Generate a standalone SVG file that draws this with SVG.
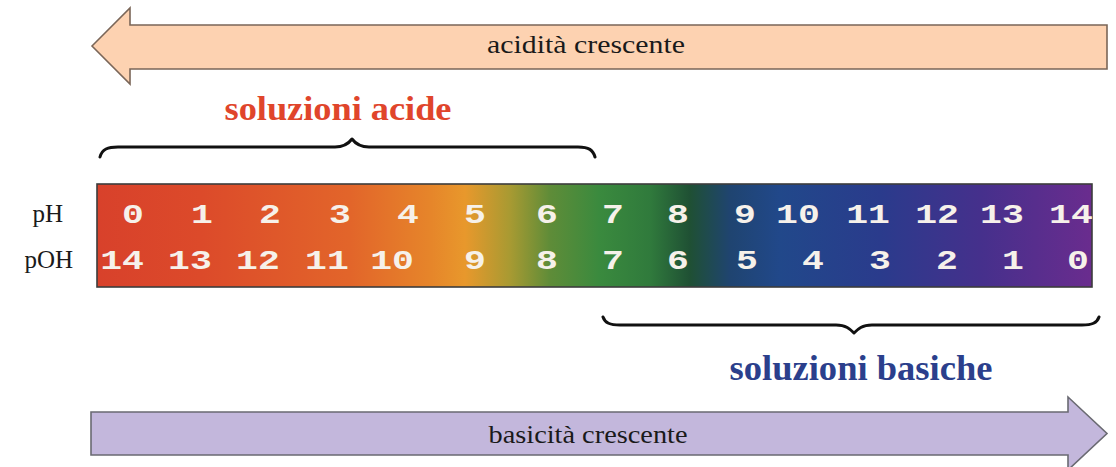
<svg xmlns="http://www.w3.org/2000/svg" width="1116" height="467" viewBox="0 0 1116 467">
<style>
.lbl{font-family:"Liberation Serif","Times New Roman",serif;fill:#1a1a1a}
.big{font-family:"Liberation Serif","Times New Roman",serif;font-weight:bold}
.num{font-family:"Liberation Mono","Courier New",monospace;font-weight:bold;font-size:27px;fill:#f6f1ea;text-anchor:middle}
.brace{fill:none;stroke:#111;stroke-width:3;stroke-linecap:round;stroke-linejoin:round}
</style>
<defs>
<linearGradient id="ph" x1="0" y1="0" x2="1" y2="0">
<stop offset="0" stop-color="#d8412b"/>
<stop offset="0.104" stop-color="#dc4a2a"/>
<stop offset="0.254" stop-color="#e2652a"/>
<stop offset="0.335" stop-color="#e6852a"/>
<stop offset="0.37" stop-color="#e8982c"/>
<stop offset="0.415" stop-color="#a89a32"/>
<stop offset="0.455" stop-color="#5f8c38"/>
<stop offset="0.505" stop-color="#3a8a3e"/>
<stop offset="0.556" stop-color="#307a3c"/>
<stop offset="0.596" stop-color="#1f5034"/>
<stop offset="0.636" stop-color="#1f4470"/>
<stop offset="0.686" stop-color="#21488a"/>
<stop offset="0.787" stop-color="#2a3b8c"/>
<stop offset="0.887" stop-color="#45308c"/>
<stop offset="1" stop-color="#6a2c8e"/>
</linearGradient>
</defs>
<rect width="1116" height="467" fill="#ffffff"/>

<g id="arrow-acidita">
<polygon points="92,46 130,8 130,25 1107,25 1107,69 130,69 130,84" fill="#fdd2b1" stroke="#7a6658" stroke-width="1.6"/>
<text class="lbl" x="586" y="53" font-size="26" text-anchor="middle" textLength="198" lengthAdjust="spacingAndGlyphs">acidità crescente</text>
</g>

<g id="label-acide">
<text class="big" x="338" y="120" font-size="34" fill="#e0452b" text-anchor="middle" textLength="227" lengthAdjust="spacingAndGlyphs">soluzioni acide</text>
</g>

<g id="brace-acide">
<path class="brace" d="M100,157 C102,149 108,147 118,147 L335,147 C345,147 349,143 352,139 C355,143 359,147 369,147 L578,147 C589,147 593,150 595,157"/>
</g>

<g id="scale-bar">
<rect x="97" y="184" width="995" height="103" fill="url(#ph)" stroke="#3c3c3c" stroke-width="1.6"/>
<text class="lbl" x="63" y="222" font-size="25" text-anchor="end">pH</text>
<text class="lbl" x="73" y="268" font-size="25" text-anchor="end">pOH</text>
<g transform="scale(1.35,1)">
<text class="num" x="98.5" y="223">0</text>
<text class="num" x="149.6" y="223">1</text>
<text class="num" x="200" y="223">2</text>
<text class="num" x="251.9" y="223">3</text>
<text class="num" x="302.2" y="223">4</text>
<text class="num" x="351.9" y="223">5</text>
<text class="num" x="405.2" y="223">6</text>
<text class="num" x="454.1" y="223">7</text>
<text class="num" x="502.2" y="223">8</text>
<text class="num" x="551.9" y="223">9</text>
<text class="num" x="591.1" y="223">10</text>
<text class="num" x="643" y="223">11</text>
<text class="num" x="694.1" y="223">12</text>
<text class="num" x="742.2" y="223">13</text>
<text class="num" x="793.3" y="223">14</text>

<text class="num" x="90.4" y="269">14</text>
<text class="num" x="140.7" y="269">13</text>
<text class="num" x="191.1" y="269">12</text>
<text class="num" x="242.2" y="269">11</text>
<text class="num" x="290.4" y="269">10</text>
<text class="num" x="351.9" y="269">9</text>
<text class="num" x="405.2" y="269">8</text>
<text class="num" x="454.1" y="269">7</text>
<text class="num" x="502.2" y="269">6</text>
<text class="num" x="553.3" y="269">5</text>
<text class="num" x="602.2" y="269">4</text>
<text class="num" x="651.9" y="269">3</text>
<text class="num" x="701.5" y="269">2</text>
<text class="num" x="750.4" y="269">1</text>
<text class="num" x="798.5" y="269">0</text>
</g>
</g>

<g id="brace-basiche">
<path class="brace" d="M603,317 C605,323 610,325 620,325 L836,325 C846,325 850,329 854,333 C858,329 862,325 872,325 L1082,325 C1092,325 1097,323 1099,317"/>
</g>

<g id="label-basiche">
<text class="big" x="861" y="380" font-size="35" fill="#2b3f8c" text-anchor="middle" textLength="263" lengthAdjust="spacingAndGlyphs">soluzioni basiche</text>
</g>

<g id="arrow-basicita">
<polygon points="91,412 1068,412 1068,397 1107,433.5 1068,470 1068,455 91,455" fill="#c3b7dc" stroke="#6a6a72" stroke-width="1.6"/>
<text class="lbl" x="588" y="443" font-size="26" text-anchor="middle" textLength="199" lengthAdjust="spacingAndGlyphs">basicità crescente</text>
</g>
</svg>
